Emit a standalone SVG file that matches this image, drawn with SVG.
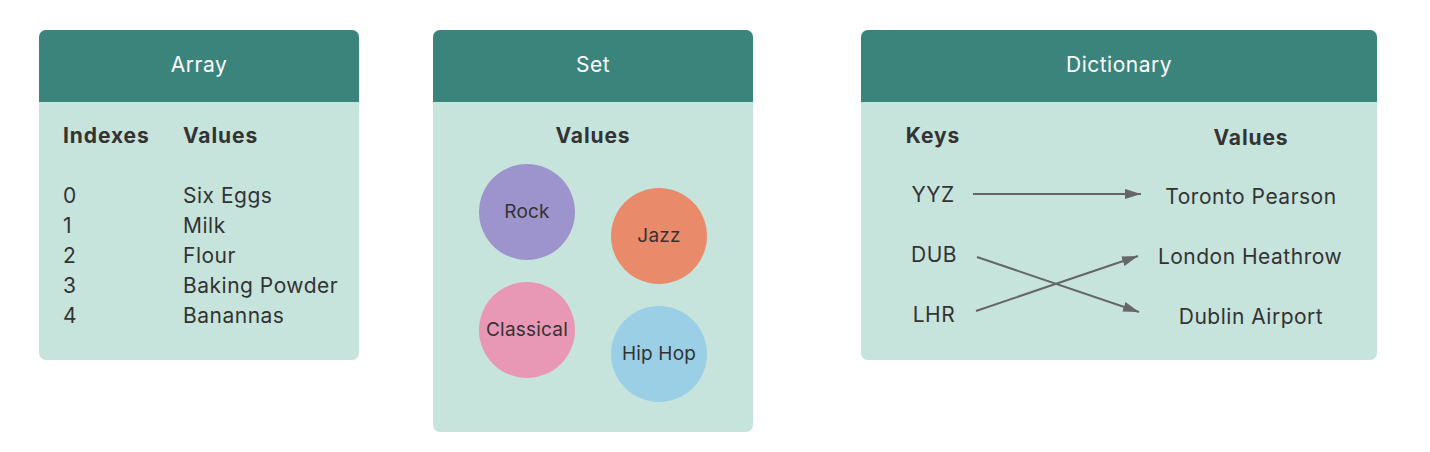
<svg xmlns="http://www.w3.org/2000/svg" width="1430" height="452" viewBox="0 0 1430 452">
<style>
text{font-family:Inter,"Liberation Sans",sans-serif;fill:#333333;font-size:21px;letter-spacing:0.5px}
.title{fill:#ffffff;text-anchor:middle}
.bold{font-weight:700;letter-spacing:0.9px}
.mid{text-anchor:middle}
.circ{font-size:19px;letter-spacing:0.2px;text-anchor:middle}
.body{fill:#c6e3dc}
.head{fill:#3a847b}
.conn{stroke:#666666;stroke-width:2;fill:none}
</style>
<defs>
<marker id="ah" markerWidth="16" markerHeight="10" refX="16" refY="5" orient="auto" markerUnits="userSpaceOnUse">
<path d="M0,0 L16,5 L0,10 Z" fill="#666666"/>
</marker>
</defs>
<rect width="1430" height="452" fill="#ffffff"/>
<g id="array">
<rect class="body" x="39" y="30" width="320" height="330" rx="7"/>
<path class="head" d="M39,102 V37 A7,7 0 0 1 46,30 H352 A7,7 0 0 1 359,37 V102 Z"/>
<text class="title" x="199" y="72">Array</text>
<text class="bold" x="63" y="143">Indexes</text>
<text class="bold" x="183" y="143">Values</text>
<text x="63" y="203">0</text><text x="183" y="203">Six Eggs</text>
<text x="63" y="233">1</text><text x="183" y="233">Milk</text>
<text x="63" y="263">2</text><text x="183" y="263">Flour</text>
<text x="63" y="293">3</text><text x="183" y="293">Baking Powder</text>
<text x="63" y="323">4</text><text x="183" y="323">Banannas</text>
</g>
<g id="set">
<rect class="body" x="433" y="30" width="320" height="402" rx="7"/>
<path class="head" d="M433,102 V37 A7,7 0 0 1 440,30 H746 A7,7 0 0 1 753,37 V102 Z"/>
<text class="title" x="593" y="72">Set</text>
<text class="bold mid" x="593" y="143">Values</text>
<g id="rock"><circle cx="527" cy="212" r="48" fill="#9d93cd"/><text class="circ" x="527" y="218">Rock</text></g>
<g id="jazz"><circle cx="659" cy="236" r="48" fill="#e98b6b"/><text class="circ" x="659" y="242">Jazz</text></g>
<g id="classical"><circle cx="527" cy="330" r="48" fill="#e898b4"/><text class="circ" x="527" y="336">Classical</text></g>
<g id="hiphop"><circle cx="659" cy="354" r="48" fill="#9acfe6"/><text class="circ" x="659" y="360">Hip Hop</text></g>
</g>
<g id="dictionary">
<rect class="body" x="861" y="30" width="516" height="330" rx="7"/>
<path class="head" d="M861,102 V37 A7,7 0 0 1 868,30 H1370 A7,7 0 0 1 1377,37 V102 Z"/>
<text class="title" x="1119" y="72">Dictionary</text>
<text class="bold mid" x="933" y="143">Keys</text>
<text class="bold mid" x="1251" y="145">Values</text>
<g id="k-yyz"><text class="mid" x="933" y="202">YYZ</text></g>
<g id="k-dub"><text class="mid" x="934" y="262">DUB</text></g>
<g id="k-lhr"><text class="mid" x="934" y="322">LHR</text></g>
<g id="v-yyz"><text class="mid" x="1251" y="204">Toronto Pearson</text></g>
<g id="v-lhr"><text class="mid" x="1250" y="264">London Heathrow</text></g>
<g id="v-dub"><text class="mid" x="1251" y="324">Dublin Airport</text></g>
</g>
<g id="connectors">
<line class="conn" x1="973" y1="194" x2="1141" y2="194" marker-end="url(#ah)"/>
<line class="conn" x1="977" y1="257" x2="1139" y2="312" marker-end="url(#ah)"/>
<line class="conn" x1="976" y1="311" x2="1138" y2="256" marker-end="url(#ah)"/>
</g>
</svg>
